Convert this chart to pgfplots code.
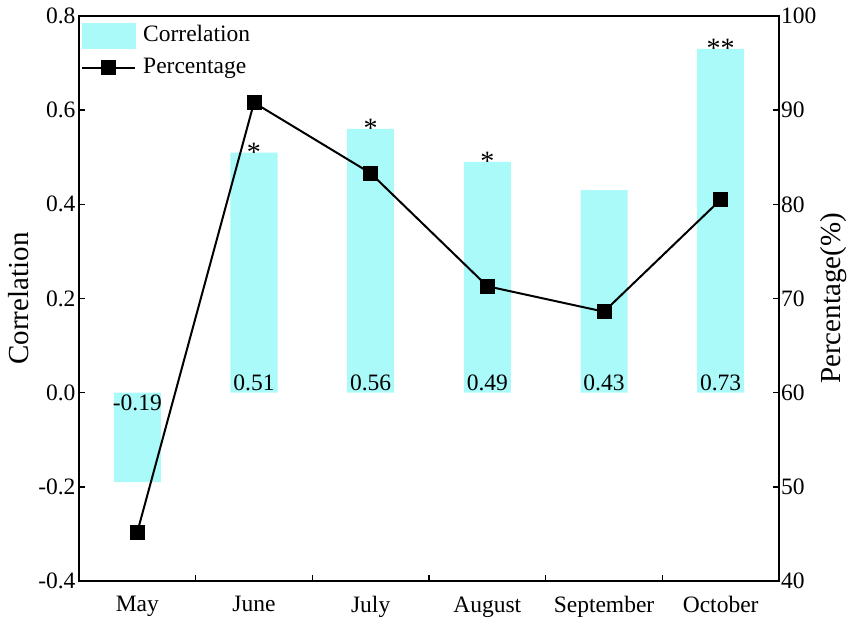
\documentclass[border=0pt]{standalone}
\usepackage{fontspec}
\setmainfont{Liberation Serif}
\usepackage{pgfplots}
\pgfplotsset{compat=1.18}
\definecolor{barcyan}{RGB}{170,250,250}
\newcommand{\tfont}{\fontsize{23.5}{28}\selectfont}
\newcommand{\sfont}{\fontsize{28}{32}\selectfont}
\newcommand{\lfont}{\fontsize{29}{34}\selectfont}
\pgfplotsset{
  mylinelegend/.style={legend image code/.code={\draw[mark repeat=2,mark phase=2,##1,line width=2pt] plot coordinates {(0pt,0pt) (26.5pt,0pt) (53pt,0pt)};}},
  mybarlegend/.style={legend image code/.code={\fill[barcyan] (0pt,-12.5pt) rectangle (53pt,12.5pt);}},
}
\begin{document}
\begin{tikzpicture}
\begin{axis}[
  scale only axis, width=700pt, height=565pt,
  at={(0,0)}, anchor=south west,
  xmin=0.5, xmax=6.5, ymin=-0.4, ymax=0.8,
  xtick={0.5,1.5,2.5,3.5,4.5,5.5,6.5}, x tick label as interval,
  xticklabels={May,June,July,August,September,October},
  xtick pos=bottom, ytick pos=left,
  ytick={-0.4,-0.2,0,0.2,0.4,0.6,0.8},
  yticklabels={-0.4,-0.2,0.0,0.2,0.4,0.6,0.8},
  tick align=inside,
  major tick length=6pt,
  every tick/.style={black, line width=1.5pt},
  axis line style={line width=1.8pt},
  tick label style={font=\tfont},
  xticklabel style={yshift=-12pt},
  ylabel={Correlation},
  ylabel style={font=\lfont, at={(axis description cs:-0.0857,0.5)}, anchor=center},
]
\addplot[ybar, bar width=47pt, fill=barcyan, draw=none]
  coordinates {(1,-0.19) (2,0.51) (3,0.56) (4,0.49) (5,0.43) (6,0.73)};
\addplot[draw=none, mark=none, nodes near coords, point meta=explicit symbolic,
  every node near coord/.append style={font=\tfont, anchor=south, inner sep=1.5pt}]
  coordinates {(2,0)[0.51] (3,0)[0.56] (4,0)[0.49] (5,0)[0.43] (6,0)[0.73]};
\addplot[draw=none, mark=none, nodes near coords, point meta=explicit symbolic,
  every node near coord/.append style={font=\tfont, anchor=north, inner sep=2pt}]
  coordinates {(1,0)[-0.19]};
\addplot[draw=none, mark=none, nodes near coords, point meta=explicit symbolic,
  every node near coord/.append style={font=\sfont, anchor=base, yshift=-8.5pt, inner sep=0pt}]
  coordinates {(2,0.51)[*] (3,0.56)[*] (4,0.49)[*] (6,0.73)[**]};
\end{axis}
\begin{axis}[
  scale only axis, width=700pt, height=565pt,
  at={(0,0)}, anchor=south west,
  xmin=0.5, xmax=6.5, ymin=40, ymax=100,
  axis x line=none, axis y line*=right,
  ytick={40,50,60,70,80,90,100},
  yticklabels={40,50,60,70,80,90,100},
  tick align=inside,
  major tick length=6pt,
  every tick/.style={black, line width=1.5pt},
  axis line style={line width=1.8pt},
  tick label style={font=\tfont},
  yticklabel style={inner xsep=2pt},
  ylabel={Percentage(\%)},
  ylabel style={font=\lfont, at={(axis description cs:1.0786,0.5)}, anchor=center},
  legend style={at={(rel axis cs:0,1)}, anchor=north west, draw=none, fill=none,
    font=\tfont, inner sep=0pt, row sep=8.5pt, xshift=2pt, yshift=-7pt,
    nodes={inner ysep=0pt, inner xsep=7pt, text height=16pt, text depth=5pt}},
  legend cell align=left,
]
\addlegendimage{mybarlegend}
\addlegendentry{Correlation}
\addplot[black, line width=2pt, mark=square*, mark size=6.5pt, mylinelegend]
  coordinates {(1,45.2) (2,90.8) (3,83.3) (4,71.3) (5,68.6) (6,80.5)};
\addlegendentry{Percentage}
\end{axis}
\pgfresetboundingbox
\useasboundingbox (-79pt,-39pt) rectangle (772pt,581pt);
\end{tikzpicture}
\end{document}
